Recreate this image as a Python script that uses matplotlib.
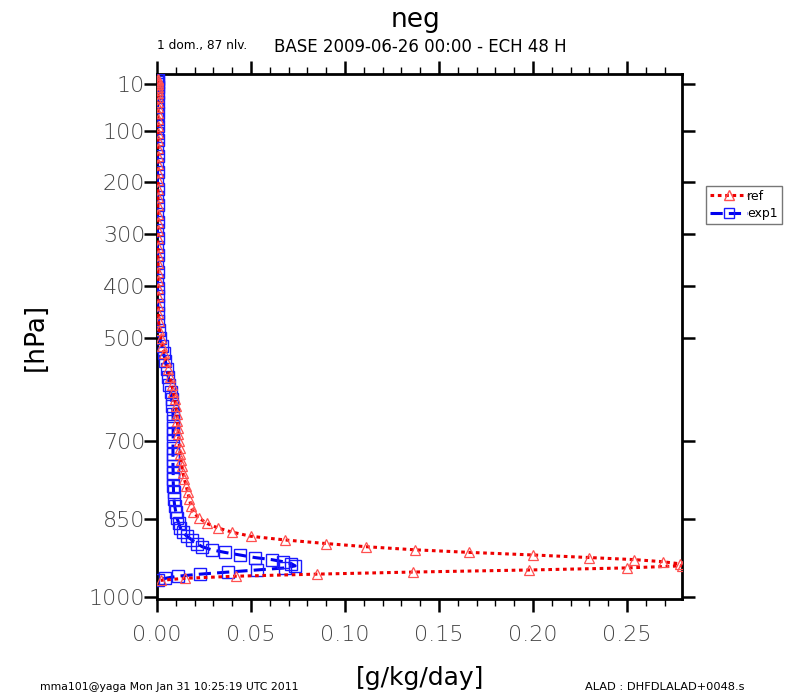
import matplotlib
matplotlib.use("Agg")
import matplotlib.pyplot as plt
from matplotlib.ticker import FixedLocator, MultipleLocator
from matplotlib.lines import Line2D

# pressure levels (hPa), 87 model levels
pressure = [1, 3, 6, 10, 15, 21, 28, 36, 45, 55,
            66, 78, 91, 105, 119, 134, 149, 164, 180, 196,
            212, 228, 244, 260, 276, 292, 308, 324, 340, 356,
            372, 388, 404, 420, 436, 452, 468, 484, 500, 515,
            530, 545, 560, 575, 590, 604, 618, 632, 646, 660,
            673, 686, 699, 712, 724, 736, 748, 760,
            772, 785, 798, 811, 824, 836, 848, 858, 867, 875,
            883, 890, 897, 903, 909, 914, 919, 924, 928, 932,
            936, 940, 944, 948, 952, 956, 960, 964, 968]

ref = [0.0005, 0.0006, 0.0005, 0.0006, 0.0005, 0.0006, 0.0005, 0.0006, 0.0005, 0.0006,
       0.0005, 0.0006, 0.0005, 0.0006, 0.0005, 0.0006, 0.0005, 0.0006, 0.0005, 0.0006,
       0.0005, 0.0006, 0.0005, 0.0006, 0.0005, 0.0006, 0.0005, 0.0006, 0.0005, 0.0006,
       0.0005, 0.0006, 0.0005, 0.0006, 0.0006, 0.0007, 0.0009, 0.0013, 0.0020, 0.0028,
       0.0038, 0.0048, 0.0058, 0.0068, 0.0078, 0.0086, 0.0094, 0.0100, 0.0105, 0.0108,
       0.0111, 0.0114, 0.0117, 0.0120, 0.0124, 0.0128, 0.0133, 0.0138,
       0.0145, 0.0155, 0.0163, 0.0172, 0.0181, 0.0190, 0.0225, 0.0265, 0.0325, 0.0400,
       0.0500, 0.0680, 0.0900, 0.1110, 0.1370, 0.1660, 0.2000, 0.2300, 0.2540, 0.2690,
       0.2780, 0.2793, 0.2500, 0.1980, 0.1360, 0.0850, 0.0420, 0.0150, 0.0020]

exp1 = [0.0003, 0.0002, 0.0003, 0.0002, 0.0003, 0.0002, 0.0003, 0.0002, 0.0003, 0.0002,
        0.0003, 0.0002, 0.0003, 0.0002, 0.0003, 0.0002, 0.0003, 0.0002, 0.0003, 0.0002,
        0.0003, 0.0002, 0.0003, 0.0002, 0.0003, 0.0002, 0.0003, 0.0002, 0.0003, 0.0002,
        0.0003, 0.0002, 0.0003, 0.0003, 0.0004, 0.0005, 0.0007, 0.0010, 0.0015, 0.0025,
        0.0035, 0.0045, 0.0052, 0.0060, 0.0066, 0.0072, 0.0078, 0.0082, 0.0085, 0.0086,
        0.0086, 0.0086, 0.0086, 0.0085, 0.0085, 0.0085, 0.0085, 0.0086,
        0.0086, 0.0087, 0.0088, 0.0090, 0.0094, 0.0100, 0.0106, 0.0116, 0.0125, 0.0136,
        0.0160, 0.0186, 0.0212, 0.0240, 0.0290, 0.0360, 0.0440, 0.0520, 0.0610, 0.0670,
        0.0715, 0.0735, 0.0680, 0.0530, 0.0380, 0.0230, 0.0110, 0.0045, 0.0005]

ytick_values = [10, 100, 200, 300, 400, 500, 700, 850, 1000]
xtick_values = [0.00, 0.05, 0.10, 0.15, 0.20, 0.25]
xtick_labels = ["0.00", "0.05", "0.10", "0.15", "0.20", "0.25"]

W, H = 800, 695
fig = plt.figure(figsize=(W / 100, H / 100), dpi=100)
ax = fig.add_axes([157 / W, (H - 599) / H, (682 - 157) / W, (599 - 74) / H])

ax.plot(exp1, pressure, color="#0000ee", linestyle=(0, (4, 2)), linewidth=2.2,
        marker="s", markersize=8, markerfacecolor="none", markeredgecolor="#1a1aff",
        markeredgewidth=1.0, label="exp1", zorder=3)
ax.plot(ref, pressure, color="#ee0000", linestyle=(0, (1.2, 1.2)), linewidth=2.2,
        marker="^", markersize=7.5, markerfacecolor="none", markeredgecolor="#ff5050",
        markeredgewidth=0.9, label="ref", zorder=4)

ax.set_xlim(0, max(ref))
ax.set_ylim(1004, -9.3)

ax.xaxis.set_major_locator(FixedLocator(xtick_values))
ax.set_xticklabels(xtick_labels)
ax.xaxis.set_minor_locator(MultipleLocator(0.01))
ax.yaxis.set_major_locator(FixedLocator(ytick_values))
ax.set_yticklabels([str(v) for v in ytick_values])

for s in ax.spines.values():
    s.set_linewidth(2.0)

ax.tick_params(axis="both", which="major", direction="out", length=9.5, width=1.8,
               labelsize=16, labelcolor="#444444", top=True, right=True)
ax.tick_params(axis="x", which="minor", direction="out", length=5, width=1.0,
               top=True, bottom=True)
ax.tick_params(axis="x", which="major", pad=9)
ax.tick_params(axis="y", which="major", pad=-1)
for lab in ax.get_xticklabels() + ax.get_yticklabels():
    lab.set_fontfamily("DejaVu Sans")
    lab.set_fontweight("light")

fig.text(415 / W, 1 - 20 / H, "neg", ha="center", va="center", fontsize=19)
fig.text(420 / W, 1 - 47 / H, "BASE 2009-06-26 00:00 - ECH 48 H", ha="center",
         va="center", fontsize=12)
fig.text(157 / W, 1 - 46 / H, "1 dom., 87 nlv.", ha="left", va="center", fontsize=8.7)
fig.text(36 / W, 1 - 337 / H, "[hPa]", ha="center", va="center", rotation=90, fontsize=19)
fig.text(420 / W, 1 - 678 / H, "[g/kg/day]", ha="center", va="center", fontsize=18)
fig.text(40 / W, 1 - 687 / H, "mma101@yaga Mon Jan 31 10:25:19 UTC 2011", ha="left",
         va="center", fontsize=7.8)
fig.text(585 / W, 1 - 687 / H, "ALAD : DHFDLALAD+0048.s", ha="left", va="center",
         fontsize=8.2)

handles = [
    Line2D([], [], color="#ee0000", linestyle=(0, (1.2, 1.2)), linewidth=2.2, marker="^",
           markersize=7, markerfacecolor="none", markeredgecolor="#ff5050"),
    Line2D([], [], color="#0000ee", linestyle=(0, (4, 2)), linewidth=2.2, marker="s",
           markersize=7, markerfacecolor="none", markeredgecolor="#1a1aff"),
]
leg = fig.legend(handles, ["ref", "exp1"], loc="upper left",
                 bbox_to_anchor=(706 / W, 1 - 186 / H), fontsize=9, frameon=True,
                 fancybox=False, edgecolor="#555555", handlelength=3.0,
                 handletextpad=0.0, borderpad=0.3, labelspacing=0.35,
                 borderaxespad=0, markerscale=1.0)
leg.get_frame().set_linewidth(1.0)

fig.savefig("out.png", dpi=100)
